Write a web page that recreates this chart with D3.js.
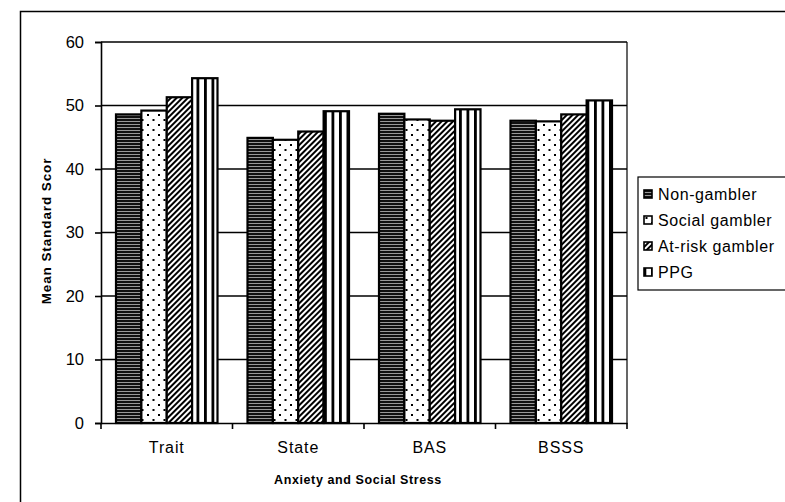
<!DOCTYPE html>
<html>
<head>
<meta charset="utf-8">
<script src="https://cdn.jsdelivr.net/npm/d3@7"></script>
<style>
  body { margin: 0; background: #fff; }
  svg { display: block; font-family: Arial, "Liberation Sans", sans-serif; }
</style>
</head>
<body>
<svg id="chart" width="785" height="502"></svg>
<script>
'use strict';

// values
const categories = ['Trait', 'State', 'BAS', 'BSSS'];
const groups = ['Non-gambler', 'Social gambler', 'At-risk gambler', 'PPG'];
const nonGambler = [48.6, 44.9, 48.7, 47.6];
const socialGambler = [49.2, 44.6, 47.8, 47.5];
const atRiskGambler = [51.3, 45.9, 47.6, 48.6];
const ppg = [54.3, 49.1, 49.4, 50.8];
const yTicks = [0, 10, 20, 30, 40, 50, 60];

const seriesValues = [nonGambler, socialGambler, atRiskGambler, ppg];
const patternIds = ['p-horiz', 'p-dots', 'p-diag', 'p-vert'];

const svg = d3.select('#chart');
const margin = {left: 101, right: 158, top: 42, bottom: 79};
const width = 785 - margin.left - margin.right;
const height = 502 - margin.top - margin.bottom;

// fill patterns, like the old b/w print
const defs = svg.append('defs');

const horiz = defs.append('pattern').attr('id', 'p-horiz')
  .attr('patternUnits', 'userSpaceOnUse').attr('width', 6).attr('height', 3);
horiz.append('rect').attr('width', 6).attr('height', 3).attr('fill', '#111');
horiz.append('rect').attr('y', 1).attr('width', 6).attr('height', 1).attr('fill', '#999');

const dots = defs.append('pattern').attr('id', 'p-dots')
  .attr('patternUnits', 'userSpaceOnUse').attr('width', 11).attr('height', 10);
dots.append('rect').attr('width', 11).attr('height', 10).attr('fill', '#fff');
dots.append('rect').attr('x', 2).attr('y', 2).attr('width', 2).attr('height', 2).attr('fill', '#000');
dots.append('rect').attr('x', 7.5).attr('y', 7).attr('width', 2).attr('height', 2).attr('fill', '#000');

const diag = defs.append('pattern').attr('id', 'p-diag')
  .attr('patternUnits', 'userSpaceOnUse').attr('width', 4).attr('height', 4)
  .attr('patternTransform', 'rotate(45)');
diag.append('rect').attr('width', 4).attr('height', 4).attr('fill', '#fff');
diag.append('rect').attr('width', 2).attr('height', 4).attr('fill', '#000');

const vert = defs.append('pattern').attr('id', 'p-vert')
  .attr('patternUnits', 'userSpaceOnUse').attr('width', 7.5).attr('height', 4)
  .attr('x', margin.left + 2);
vert.append('rect').attr('width', 7.5).attr('height', 4).attr('fill', '#fff');
vert.append('rect').attr('width', 2.8).attr('height', 4).attr('fill', '#000');

// outer frame (only top and left visible)
svg.append('path')
  .attr('d', 'M20.5,502V11.5H785')
  .attr('fill', 'none').attr('stroke', '#000').attr('stroke-width', 1.5);

const g = svg.append('g').attr('transform', `translate(${margin.left},${margin.top})`);

const x0 = d3.scaleBand().domain(categories).range([0, width]);
const x1 = d3.scaleBand().domain(groups).range([15, x0.bandwidth() - 15]);
const y = d3.scaleLinear().domain([0, 60]).range([height, 0]);

// gridlines
g.append('g').selectAll('line').data(yTicks.slice(1)).join('line')
  .attr('x1', 0).attr('x2', width)
  .attr('y1', d => y(d)).attr('y2', d => y(d))
  .attr('stroke', '#000').attr('stroke-width', 1.6);

// plot border on the right
g.append('line').attr('x1', width).attr('x2', width).attr('y1', 0).attr('y2', height)
  .attr('stroke', '#000').attr('stroke-width', 1.2);

// bars
const barData = [];
categories.forEach((c, i) => {
  groups.forEach((s, j) => barData.push({cat: c, grp: s, j, value: seriesValues[j][i]}));
});

g.append('g').selectAll('rect').data(barData).join('rect')
  .attr('x', d => x0(d.cat) + x1(d.grp))
  .attr('y', d => y(d.value))
  .attr('width', x1.bandwidth())
  .attr('height', d => y(0) - y(d.value))
  .attr('fill', d => `url(#${patternIds[d.j]})`)
  .attr('stroke', '#000').attr('stroke-width', 2.2);

// y axis
const yAxis = g.append('g').call(d3.axisLeft(y).tickValues(yTicks).tickSize(6).tickPadding(11));
yAxis.select('.domain').attr('stroke-width', 1.6);
yAxis.selectAll('.tick line').attr('stroke-width', 1.6);
yAxis.selectAll('text').attr('font-size', 16.5).attr('fill', '#000')
  .attr('font-family', 'Arial, "Liberation Sans", sans-serif');

// x axis with ticks between the categories
const xAxis = g.append('g').attr('transform', `translate(0,${height})`)
  .call(d3.axisBottom(x0).tickSize(0).tickPadding(19));
xAxis.select('.domain').attr('stroke-width', 1.6);
xAxis.selectAll('text').attr('font-size', 16).attr('fill', '#000').attr('letter-spacing', 0.9)
  .attr('font-family', 'Arial, "Liberation Sans", sans-serif');
xAxis.append('g').selectAll('line').data(d3.range(categories.length + 1)).join('line')
  .attr('x1', i => i * x0.step()).attr('x2', i => i * x0.step())
  .attr('y1', 0).attr('y2', 6)
  .attr('stroke', '#000').attr('stroke-width', 1.6);

// axis titles
svg.append('text')
  .attr('transform', 'translate(51,231) rotate(-90)')
  .attr('text-anchor', 'middle')
  .attr('font-size', 13.5).attr('font-weight', 'bold').attr('letter-spacing', 0.9)
  .text('Mean Standard Scor');

svg.append('text')
  .attr('x', 358).attr('y', 484)
  .attr('text-anchor', 'middle')
  .attr('font-size', 12.5).attr('font-weight', 'bold').attr('letter-spacing', 0.6)
  .text('Anxiety and Social Stress');

// legend
const legend = svg.append('g').attr('transform', 'translate(638,177)');
legend.append('rect').attr('width', 160).attr('height', 113)
  .attr('fill', '#fff').attr('stroke', '#000').attr('stroke-width', 1.2);

const items = legend.selectAll('g.item').data(groups).join('g')
  .attr('class', 'item')
  .attr('transform', (d, i) => `translate(0,${17 + i * 26})`);
items.append('rect')
  .attr('x', 6).attr('y', -4).attr('width', 8).attr('height', 8)
  .attr('fill', (d, i) => `url(#${patternIds[i]})`)
  .attr('stroke', '#000').attr('stroke-width', 1.6);
items.append('text')
  .attr('x', 20).attr('y', 6)
  .attr('font-size', 16).attr('letter-spacing', 0.6)
  .text(d => d);
</script>
</body>
</html>
